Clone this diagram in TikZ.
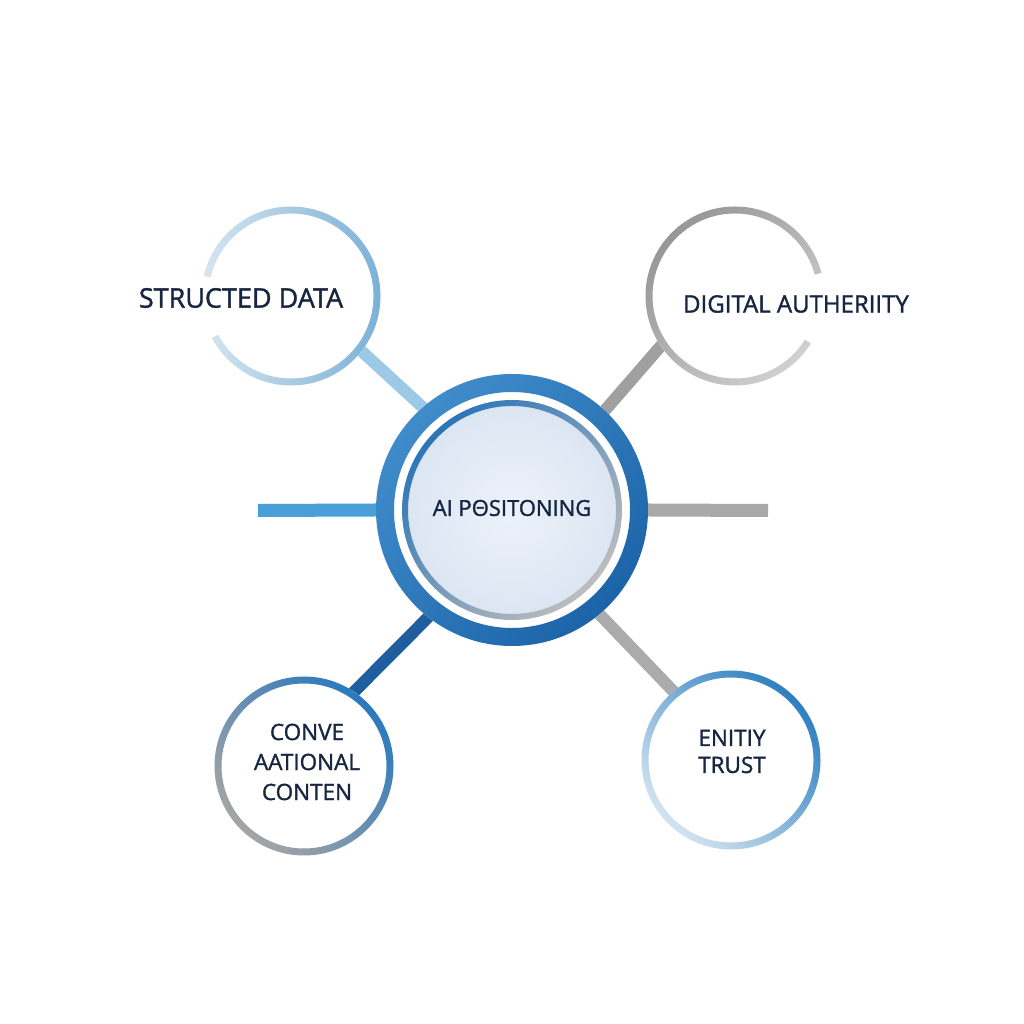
\documentclass[tikz,border=0pt]{standalone}
\usepackage{fontspec}
\setmainfont{Open Sans}
\newfontfamily\labfont{Open Sans}[FakeBold=1.4]
\usetikzlibrary{backgrounds}
\definecolor{txt}{HTML}{172640}
\definecolor{cA}{HTML}{9CC9E6}
\definecolor{cB}{HTML}{A0A0A0}
\definecolor{cC}{HTML}{1F5F9F}
\definecolor{cD}{HTML}{ABABAB}
\definecolor{cL}{HTML}{4A9FD8}
\definecolor{cR}{HTML}{A8A8A8}
\begin{document}
\begin{tikzpicture}[x=1pt,y=1pt,
  sat/.style={circle, minimum size=179pt, inner sep=0pt, outer sep=0pt, fill=white},
  lab/.style={text=txt, align=center, inner sep=0pt},
  conn/.style={line width=12pt, shorten <=-6pt, shorten >=-6pt},
]
\useasboundingbox (0,0) rectangle (1024,1024);
% nodes
\node[sat, minimum size=272pt] (c) at (512,514) {};
\node[sat] (s1) at (291,728) {};
\node[sat] (s2) at (735,728) {};
\node[sat] (s3) at (304,258) {};
\node[sat] (s4) at (731,264) {};
\coordinate (hl) at (258,513.5);
\coordinate (hr) at (768,513.5);
% connectors behind
\begin{pgfonlayer}{background}
\fill[white] (0,0) rectangle (1024,1024);
\draw[conn, cA] (s1.-38) -- (c.131);
\draw[conn, cB] (s2.214) -- (c.47);
\draw[conn, cC] (s3.56) -- (c.232);
\draw[conn, cD] (c.-50) -- (s4.130);
\draw[line width=13pt, cL, shorten >=-6pt] (hl) -- (c.180);
\draw[line width=13pt, cR, shorten <=-6pt] (c.0) -- (hr);
\end{pgfonlayer}
% central rings
\shade[even odd rule, top color={rgb,255:red,64;green,140;blue,203}, bottom color={rgb,255:red,28;green,100;blue,168}, shading angle=45]
  (c.center) circle[radius=136] (c.center) circle[radius=118];
\shade[inner color={rgb,255:red,236;green,242;blue,250}, outer color={rgb,255:red,220;green,230;blue,242}]
  (c.center) circle[radius=104.5];
\shade[even odd rule, top color={rgb,255:red,43;green,118;blue,183}, bottom color={rgb,255:red,189;green,189;blue,189}, shading angle=45]
  (c.center) circle[radius=110] (c.center) circle[radius=104];
% satellite rings
\begin{scope}
\clip (s1.center) -- ++(208:130) arc[start angle=208, end angle=527, radius=130] -- cycle;
\shade[even odd rule, left color={rgb,255:red,214;green,229;blue,240}, right color={rgb,255:red,123;green,177;blue,215}]
  (s1.center) circle[radius=89.5] (s1.center) circle[radius=82.5];
\end{scope}
\begin{scope}
\clip (s2.center) -- ++(15:130) arc[start angle=15, end angle=328, radius=130] -- cycle;
\shade[even odd rule, top color={rgb,255:red,151;green,151;blue,151}, bottom color={rgb,255:red,208;green,208;blue,208}, shading angle=45]
  (s2.center) circle[radius=89.5] (s2.center) circle[radius=82.5];
\end{scope}
\shade[even odd rule, top color={rgb,255:red,43;green,121;blue,189}, bottom color={rgb,255:red,165;green,165;blue,165}, shading angle=-45]
  (s3.center) circle[radius=89.5] (s3.center) circle[radius=82.5];
\shade[even odd rule, top color={rgb,255:red,46;green,127;blue,192}, bottom color={rgb,255:red,211;green,228;blue,240}, shading angle=-45]
  (s4.center) circle[radius=89.5] (s4.center) circle[radius=82.5];
% labels
\node[lab, font=\labfont\fontsize{22}{27}\selectfont] (t0) at (512,516) {AI PΘSITONING};
\node[lab, font=\labfont\fontsize{27}{30}\selectfont] (t1) at (241,726) {STRUCTED DATA};
\node[lab, font=\labfont\fontsize{24}{28}\selectfont] (t2) at (796,720) {DIGITAL AUTHERIITY};
\node[lab, font=\labfont\fontsize{22.5}{30}\selectfont] (t3) at (307,262) {CONVE\\AATIONAL\\CONTEN};
\node[lab, font=\labfont\fontsize{22.5}{27}\selectfont] (t4) at (732,272.5) {ENITIY\\TRUST};
\end{tikzpicture}
\end{document}
